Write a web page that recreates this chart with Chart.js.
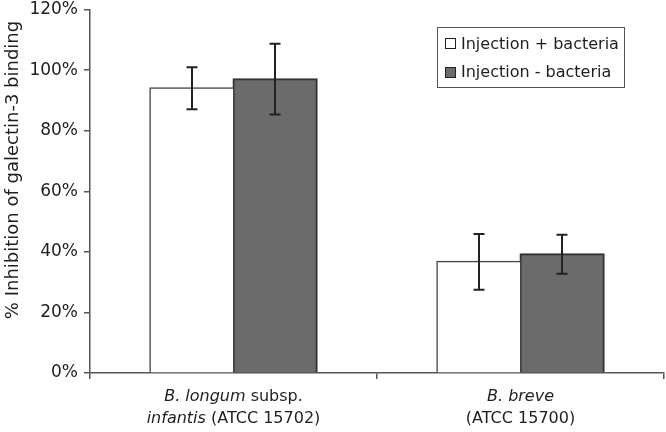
<!DOCTYPE html>
<html><head><meta charset="utf-8">
<script src="https://cdn.jsdelivr.net/npm/chart.js@4/dist/chart.umd.min.js"></script>
<style>html,body{margin:0;padding:0;background:#fff}#wrap{width:666px;height:432px;position:relative}</style>
</head><body><div id="wrap"><canvas id="c" width="666" height="432"></canvas></div>
<script>
const categories = ["B. longum subsp. infantis (ATCC 15702)", "B. breve (ATCC 15700)"];
const categoryLabelParts = [
  [[["B. longum", true], [" subsp.", false]], [["infantis", true], [" (ATCC 15702)", false]]],
  [[["B. breve", true]], [["(ATCC 15700)", false]]]
];
const seriesNames = ["Injection + bacteria", "Injection - bacteria"];
const withBacteria = [94.0, 36.7];
const withBacteriaErr = [6.9, 9.2];
const withoutBacteria = [97.0, 39.2];
const withoutBacteriaErr = [11.7, 6.4];
const yTickValues = [0, 20, 40, 60, 80, 100, 120];
const yTitle = "% Inhibition of galectin-3 binding";

const FONT = "'DejaVu Sans', Verdana, sans-serif";
const TEXT = '#1e1e1e';
const seriesFill = ['#ffffff', '#6b6b6b'];
const seriesBorder = ['#444444', '#333333'];
const errors = [withBacteriaErr, withoutBacteriaErr];

const overlay = {
  id: 'overlay',
  afterDatasetsDraw(chart) {
    const ctx = chart.ctx, y = chart.scales.y;
    ctx.save();
    ctx.strokeStyle = '#222';
    ctx.lineWidth = 2;
    chart.data.datasets.forEach((ds, di) => {
      const meta = chart.getDatasetMeta(di);
      meta.data.forEach((bar, i) => {
        const v = ds.data[i], e = errors[di][i];
        const x = Math.round(bar.x);
        const yt = y.getPixelForValue(v + e), yb = y.getPixelForValue(v - e);
        ctx.beginPath();
        ctx.moveTo(x, yt); ctx.lineTo(x, yb);
        ctx.moveTo(x - 5.5, yt); ctx.lineTo(x + 5.5, yt);
        ctx.moveTo(x - 5.5, yb); ctx.lineTo(x + 5.5, yb);
        ctx.stroke();
      });
    });
    ctx.restore();
  },
  afterDraw(chart) {
    const ctx = chart.ctx, xs = chart.scales.x;
    ctx.save();
    ctx.fillStyle = TEXT;
    ctx.textBaseline = 'alphabetic';
    const baselines = [401, 423];
    categoryLabelParts.forEach((lines, ci) => {
      const cx = xs.getPixelForValue(ci);
      lines.forEach((parts, li) => {
        let total = 0;
        parts.forEach(([t, it]) => { ctx.font = (it ? 'italic ' : '') + '16px ' + FONT; total += ctx.measureText(t).width; });
        let x = cx - total / 2;
        ctx.textAlign = 'left';
        parts.forEach(([t, it]) => {
          ctx.font = (it ? 'italic ' : '') + '16px ' + FONT;
          ctx.fillText(t, x, baselines[li]);
          x += ctx.measureText(t).width;
        });
      });
    });
    ctx.save();
    ctx.translate(13, 170);
    ctx.rotate(-Math.PI / 2);
    ctx.font = '18px ' + FONT;
    ctx.textAlign = 'center';
    ctx.textBaseline = 'middle';
    ctx.fillText(yTitle, 0, 0);
    ctx.restore();
    ctx.strokeStyle = '#555';
    ctx.lineWidth = 1;
    ctx.strokeRect(437.5, 27.5, 187, 60);
    ctx.font = '16px ' + FONT;
    ctx.textAlign = 'left';
    ctx.textBaseline = 'alphabetic';
    const rowY = [38.5, 67.5];
    const textY = [48.5, 77];
    seriesNames.forEach((n, i) => {
      ctx.fillStyle = seriesFill[i];
      ctx.fillRect(445.5, rowY[i], 10, 10);
      ctx.strokeStyle = '#222';
      ctx.strokeRect(445.5, rowY[i], 10, 10);
      ctx.fillStyle = TEXT;
      ctx.fillText(n, 461, textY[i]);
    });
    ctx.restore();
  }
};

new Chart(document.getElementById('c'), {
  type: 'bar',
  data: {
    labels: categories,
    datasets: [
      { label: seriesNames[0], data: withBacteria, backgroundColor: seriesFill[0], borderColor: seriesBorder[0], borderWidth: 1.5, inflateAmount: 1 },
      { label: seriesNames[1], data: withoutBacteria, backgroundColor: seriesFill[1], borderColor: seriesBorder[1], borderWidth: 2, inflateAmount: 1 }
    ]
  },
  options: {
    responsive: false,
    devicePixelRatio: 1,
    animation: false,
    categoryPercentage: 0.58,
    barPercentage: 1.0,
    layout: { padding: { top: 9.5, right: 2, left: 0, bottom: 0 } },
    plugins: { legend: { display: false }, tooltip: { enabled: false } },
    scales: {
      x: {
        type: 'category',
        offset: true,
        grid: { display: true, drawOnChartArea: false, tickLength: 6, color: '#555', lineWidth: 1.5, offset: true },
        border: { color: '#555', width: 1.5 },
        ticks: { display: false },
        afterFit(s) { s.height = 59; s.paddingLeft = 0; s.paddingRight = 0; }
      },
      y: {
        min: 0, max: 120,
        afterBuildTicks(s) { s.ticks = yTickValues.map(v => ({ value: v })); },
        ticks: { callback: v => v + '%', font: { family: FONT, size: 17 }, color: TEXT, padding: 6 },
        grid: { drawOnChartArea: false, tickLength: 6, color: '#555', lineWidth: 1.5 },
        border: { color: '#555', width: 1.5 },
        afterFit(s) { s.width = 90; s.paddingTop = 0; s.paddingBottom = 0; }
      }
    }
  },
  plugins: [overlay]
});
</script>
</body></html>
